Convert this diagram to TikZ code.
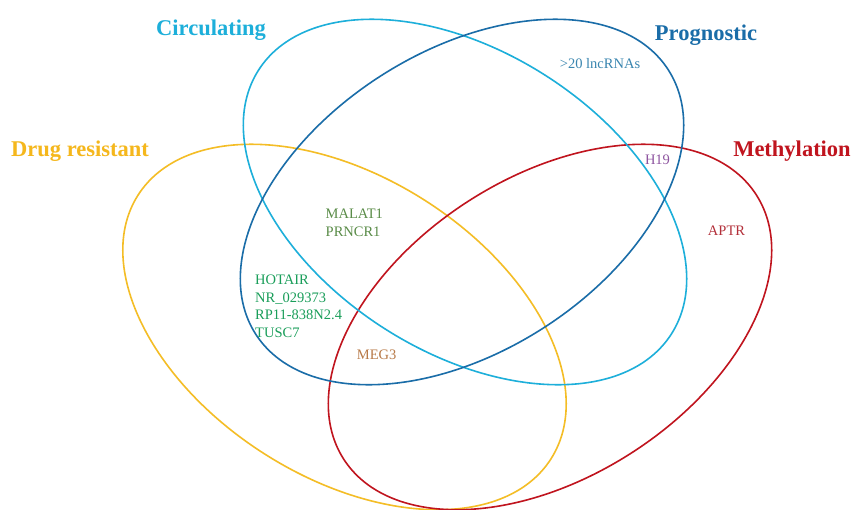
\documentclass[tikz,border=0pt]{standalone}
\usepackage{fontspec}
\setmainfont{Liberation Serif}
\definecolor{circ}{HTML}{1DAFDA}
\definecolor{prog}{HTML}{1A6DA8}
\definecolor{drug}{HTML}{F4BD26}
\definecolor{drugt}{HTML}{F5B71C}
\definecolor{meth}{HTML}{C0141E}
\definecolor{olive}{HTML}{5A8C48}
\definecolor{grn}{HTML}{1A9E5A}
\definecolor{lnc}{HTML}{3A86B0}
\definecolor{purp}{HTML}{8E55A0}
\definecolor{aptr}{HTML}{B3303A}
\definecolor{brown}{HTML}{B87A48}
\begin{document}
\begin{tikzpicture}[x=1pt,y=-1pt,
  setline/.style={line width=1.6pt},
  title/.style={font=\fontsize{22.5}{26}\selectfont\bfseries, inner sep=0pt, anchor=base},
  lab/.style={font=\fontsize{14.5}{17.5}\selectfont, inner sep=0pt, align=left}]
\useasboundingbox (0,0) rectangle (854,509);
\fill[white] (0,0) rectangle (854,509);
% ellipses
\draw[setline, drug, rotate around={-32.6:(344.5,327)}] (344.5,327) ellipse [x radius=245, y radius=150];
\draw[setline, meth, rotate around={32.6:(550,327)}] (550,327) ellipse [x radius=245, y radius=150];
\draw[setline, circ, rotate around={-32.6:(465,202)}] (465,202) ellipse [x radius=245, y radius=150];
\draw[setline, prog, rotate around={32.6:(462,202)}] (462,202) ellipse [x radius=245, y radius=150];
% titles
\node[title, text=circ] (tcirc) at (211,35) {Circulating};
\node[title, text=prog] (tprog) at (706,40.5) {Prognostic};
\node[title, text=drugt] (tdrug) at (80,156) {Drug resistant};
\node[title, text=meth] (tmeth) at (792,156) {Methylation};
% inner labels
\node[lab, text=lnc, anchor=base] (lnc) at (600,68.3) {>20 lncRNAs};
\node[lab, text=purp] (h19) at (657.5,160) {H19};
\node[lab, text=aptr] (aptr) at (726.5,230.5) {APTR};
\node[lab, text=olive, anchor=west] (malat) at (325.5,222.7) {MALAT1\\PRNCR1};
\node[lab, text=grn, anchor=west] (hotair) at (255,306.3) {HOTAIR\\NR\_029373\\RP11-838N2.4\\TUSC7};
\node[lab, text=brown] (meg) at (376.7,355) {MEG3};
\end{tikzpicture}
\end{document}
